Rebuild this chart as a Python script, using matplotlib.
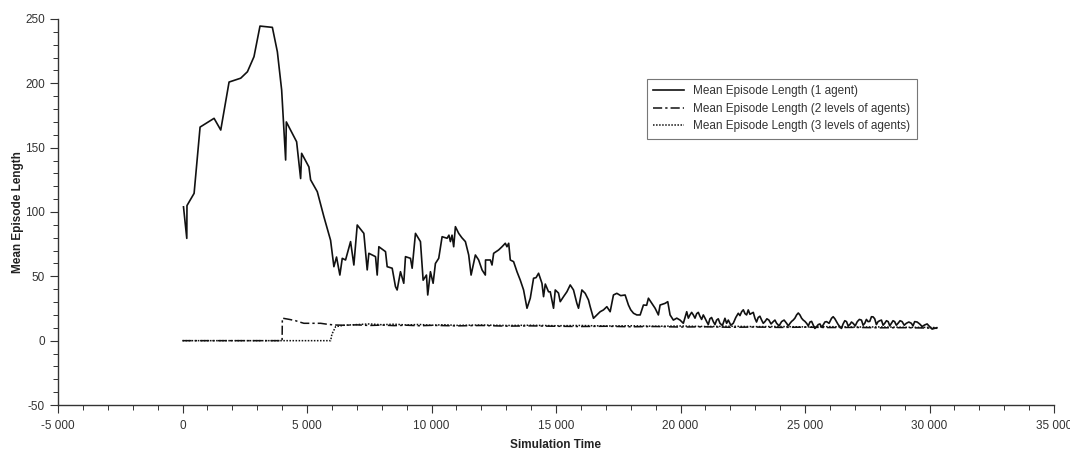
import matplotlib
matplotlib.use("Agg")
import matplotlib.pyplot as plt
from matplotlib.ticker import MultipleLocator, FuncFormatter

plt.rcParams['font.family'] = ['Liberation Sans Narrow', 'Liberation Sans', 'DejaVu Sans']
plt.rcParams['axes.unicode_minus'] = False

# Series 1: Mean Episode Length (1 agent)
t1 = [40, 172, 180, 466, 706, 1268, 1536, 1870, 2338, 2607, 2871, 3112, 3609, 3810, 3982,
      4142, 4170, 4583, 4744, 4784, 5077, 5145, 5413, 5679, 5947, 6080, 6186, 6320, 6416,
      6548, 6750, 6882, 7017, 7283, 7418, 7484, 7752, 7819, 7886, 8153, 8220, 8421, 8553,
      8620, 8754, 8886, 8955, 9155, 9223, 9356, 9556, 9664, 9797, 9849, 9957, 10065, 10157,
      10290, 10426, 10626, 10700, 10759, 10825, 10891, 10960, 11092, 11220, 11361, 11494,
      11590, 11762, 11894, 12030, 12162, 12170, 12363, 12431, 12496, 12696, 12832, 12964,
      13030, 13100, 13165, 13297, 13433, 13566, 13698, 13835, 13967, 14099, 14200, 14300,
      14436, 14500, 14570, 14700, 14769, 14901, 14970, 15100, 15170, 15302, 15438, 15571,
      15703, 15838, 15904, 16040, 16172, 16305, 16373, 16505, 16641, 16774, 16906, 17042,
      17175, 17307, 17443, 17600, 17776, 17909, 18000, 18113, 18245, 18380, 18511, 18640,
      18712, 18847, 18980, 19112, 19180, 19381, 19488, 19581, 19713, 19850, 19982, 20114,
      20182, 20250, 20315, 20380, 20448, 20515, 20582, 20650, 20715, 20780, 20848, 20916,
      20984, 21052, 21116, 21180, 21248, 21317, 21384, 21450, 21517, 21584, 21684, 21785,
      21852, 21920, 22020, 22119, 22220, 22320, 22388, 22456, 22523, 22590, 22655, 22721,
      22789, 22857, 22923, 22989, 23054, 23120, 23189, 23258, 23324, 23390, 23470, 23550,
      23637, 23724, 23792, 23860, 23960, 24060, 24160, 24261, 24330, 24400, 24463, 24527,
      24595, 24663, 24730, 24796, 24862, 24928, 24996, 25064, 25132, 25200, 25265, 25329,
      25397, 25465, 25532, 25600, 25665, 25730, 25798, 25866, 25966, 26066, 26131, 26200,
      26267, 26333, 26400, 26465, 26530, 26598, 26667, 26733, 26800, 26866, 26932, 27016,
      27100, 27184, 27268, 27334, 27400, 27466, 27533, 27601, 27669, 27735, 27800, 27867,
      27934, 28002, 28070, 28136, 28202, 28271, 28340, 28405, 28470, 28535, 28600, 28668,
      28736, 28818, 28900, 28985, 29070, 29170, 29271, 29338, 29404, 29504, 29604, 29705,
      29805, 29905, 30005, 30105, 30206, 30300]
y1 = [104, 79.5, 105, 114.5, 166, 172.8, 163.7, 201, 204, 209, 220.7, 244.5, 243.5, 224.5, 194.8,
      140.4, 170, 154.6, 126, 145.6, 135, 125, 115.8, 96.3, 78, 57.5, 65, 51, 64,
      62.7, 77, 58.8, 89.9, 83.4, 55, 67.9, 65.3, 51, 73, 69.2, 57.5, 56.3, 42,
      39.4, 53.6, 44.6, 65.3, 64, 56.3, 83.4, 77, 47, 51, 35.5, 53.6, 44.6, 60,
      64, 80.8, 79.6, 82, 77, 82, 73, 88.6, 83.4, 80, 77, 66.6,
      51, 66.6, 62.7, 55, 51, 62.7, 62.7, 58.8, 67.9, 70.5, 73, 75.7,
      73, 75.7, 62.7, 61.4, 53.6, 47, 39.4, 25.2, 33, 48.5, 49, 52.4,
      44.6, 34.2, 44, 38, 38, 25.2, 39.4, 37, 30.3, 34.2, 38, 43.3,
      39.4, 29, 25.2, 39.4, 36.8, 31.6, 26.4, 17.4, 20, 22.5, 23.9, 26.4,
      22.5, 35.5, 36.8, 35, 35.5, 27.7, 24, 21.3, 20, 20, 27.7, 27.5,
      33, 29, 25.2, 20, 27.7, 29, 30.3, 20, 16, 17.5, 16, 13.5,
      18, 22.5, 17.5, 20, 22, 20, 17.5, 21, 22, 19, 16.5, 20,
      17.5, 14.8, 12.5, 17, 18, 14.8, 12.5, 16, 17, 13.5, 11.8, 17.4,
      13.5, 16, 12, 13.5, 18, 21.3, 19.5, 22.5, 24, 21, 20, 23.9,
      20.5, 21.3, 22, 17.4, 14.5, 18, 19, 16, 13.5, 14.8, 17, 16,
      13, 14.8, 16, 13.5, 11.5, 14.8, 16, 13.5, 11.5, 13.5, 15, 16,
      17.5, 20, 21.5, 20, 17.5, 16, 15, 13.5, 11.5, 14.5, 15, 12.2,
      9.5, 10.9, 12.5, 13, 10.5, 12.2, 14.5, 14.8, 13.5, 17.4, 18.6, 17,
      14.8, 12.5, 10.9, 9.5, 13, 15.5, 14.8, 11.5, 12.5, 14.5, 13.5, 11.5,
      14.8, 16.5, 16, 12, 13.5, 16.5, 14.8, 15, 18.6, 18.5, 17, 12.5,
      14.8, 15.5, 16, 12, 13.5, 15.5, 14.8, 11.5, 13.5, 15.5, 14.8, 12,
      13.5, 15.5, 14.8, 12, 13.5, 14.5, 13.5, 11.5, 14.8, 14.5, 13, 11,
      12.2, 13, 10.9, 9, 9.6, 10]

# Series 2: Mean Episode Length (2 levels of agents)
t2 = [0, 4000, 4010, 4300, 4543, 4700, 4876, 5200, 5546, 5800, 6080, 6500, 7000, 7500, 8000,
      8500, 9000, 9500, 10000, 11000, 12000, 13000, 14000, 15000, 16000, 17000, 18000,
      19000, 20000, 21000, 22000, 23000, 24000, 25000, 26000, 27000, 28000, 29000, 30000, 30300]
y2 = [0, 0, 17.5, 16.5, 15.5, 14.5, 13.5, 13.5, 13.5, 12.8, 12.2, 12.0, 12.3, 11.8, 12.1,
      11.7, 12.0, 11.6, 11.9, 11.5, 11.8, 11.3, 11.5, 11.2, 11.0, 11.2, 10.8, 11.0, 10.6,
      10.8, 10.4, 10.6, 10.3, 10.5, 10.2, 10.3, 10.0, 10.1, 9.8, 9.6]

# Series 3: Mean Episode Length (3 levels of agents)
t3 = [0, 5950, 6000, 6150, 6500, 7000, 7500, 8000, 8500, 9000, 9500, 10000, 10500, 11000,
      12000, 13000, 14000, 15000, 16000, 17000, 18000, 19000, 20000, 21000, 22000, 23000,
      24000, 25000, 26000, 27000, 28000, 29000, 30000, 30300]
y3 = [0, 0, 5.0, 10.9, 12.0, 12.5, 13.0, 12.4, 12.8, 12.2, 12.6, 12.0, 12.4, 11.9,
      12.2, 11.8, 12.0, 11.6, 11.8, 11.4, 11.6, 11.2, 11.4, 11.0, 11.2, 10.9, 11.0, 10.7,
      10.9, 10.6, 10.7, 10.4, 10.3, 10.1]

labels = ["Mean Episode Length (1 agent)",
          "Mean Episode Length (2 levels of agents)",
          "Mean Episode Length (3 levels of agents)"]

fig = plt.figure(figsize=(10.7, 4.51), dpi=100)
ax = fig.add_axes([58/1070, 1 - 405/451, (1054 - 58)/1070, (405 - 19)/451])

ax.plot(t1, y1, color='#111111', lw=1.2, ls='-', label=labels[0])
ax.plot(t2, y2, color='#111111', lw=1.1, ls=(0, (6, 2, 1.5, 2)), label=labels[1])
ax.plot(t3, y3, color='#111111', lw=1.1, ls=(0, (1, 1)), label=labels[2])

ax.set_xlim(-5000, 35000)
ax.set_ylim(-50, 250)
ax.xaxis.set_major_locator(MultipleLocator(5000))
ax.xaxis.set_minor_locator(MultipleLocator(1000))
ax.yaxis.set_major_locator(MultipleLocator(50))
ax.yaxis.set_minor_locator(MultipleLocator(10))

def fmt(v, pos):
    s = f"{int(round(abs(v))):,}".replace(",", " ")
    return ("-" if v < 0 else "") + s
ax.xaxis.set_major_formatter(FuncFormatter(fmt))
ax.yaxis.set_major_formatter(FuncFormatter(fmt))

for s in ['top', 'right']:
    ax.spines[s].set_visible(False)
for s in ['left', 'bottom']:
    ax.spines[s].set_color('#333333')
    ax.spines[s].set_linewidth(1.0)

ax.tick_params(which='major', direction='out', length=6, width=0.8, colors='#333333',
               labelsize=8.5, labelcolor='#333333')
ax.tick_params(which='minor', direction='out', length=3.5, width=0.7, colors='#333333')
ax.tick_params(axis='x', pad=5)

ax.set_xlabel("Simulation Time", fontsize=8.5, fontweight='bold', labelpad=5, color='#222222')
ax.set_ylabel("Mean Episode Length", fontsize=8.5, fontweight='bold', labelpad=1, color='#222222')

leg = ax.legend(loc='upper left', bbox_to_anchor=(0.585, 0.86), fontsize=8.5,
                frameon=True, fancybox=False, shadow=False, framealpha=1,
                edgecolor='#777777', handlelength=2.6, borderpad=0.55,
                labelspacing=0.45, handletextpad=0.8)
leg.get_frame().set_linewidth(0.8)
for txt in leg.get_texts():
    txt.set_color('#333333')

fig.savefig("out.png", dpi=100)
